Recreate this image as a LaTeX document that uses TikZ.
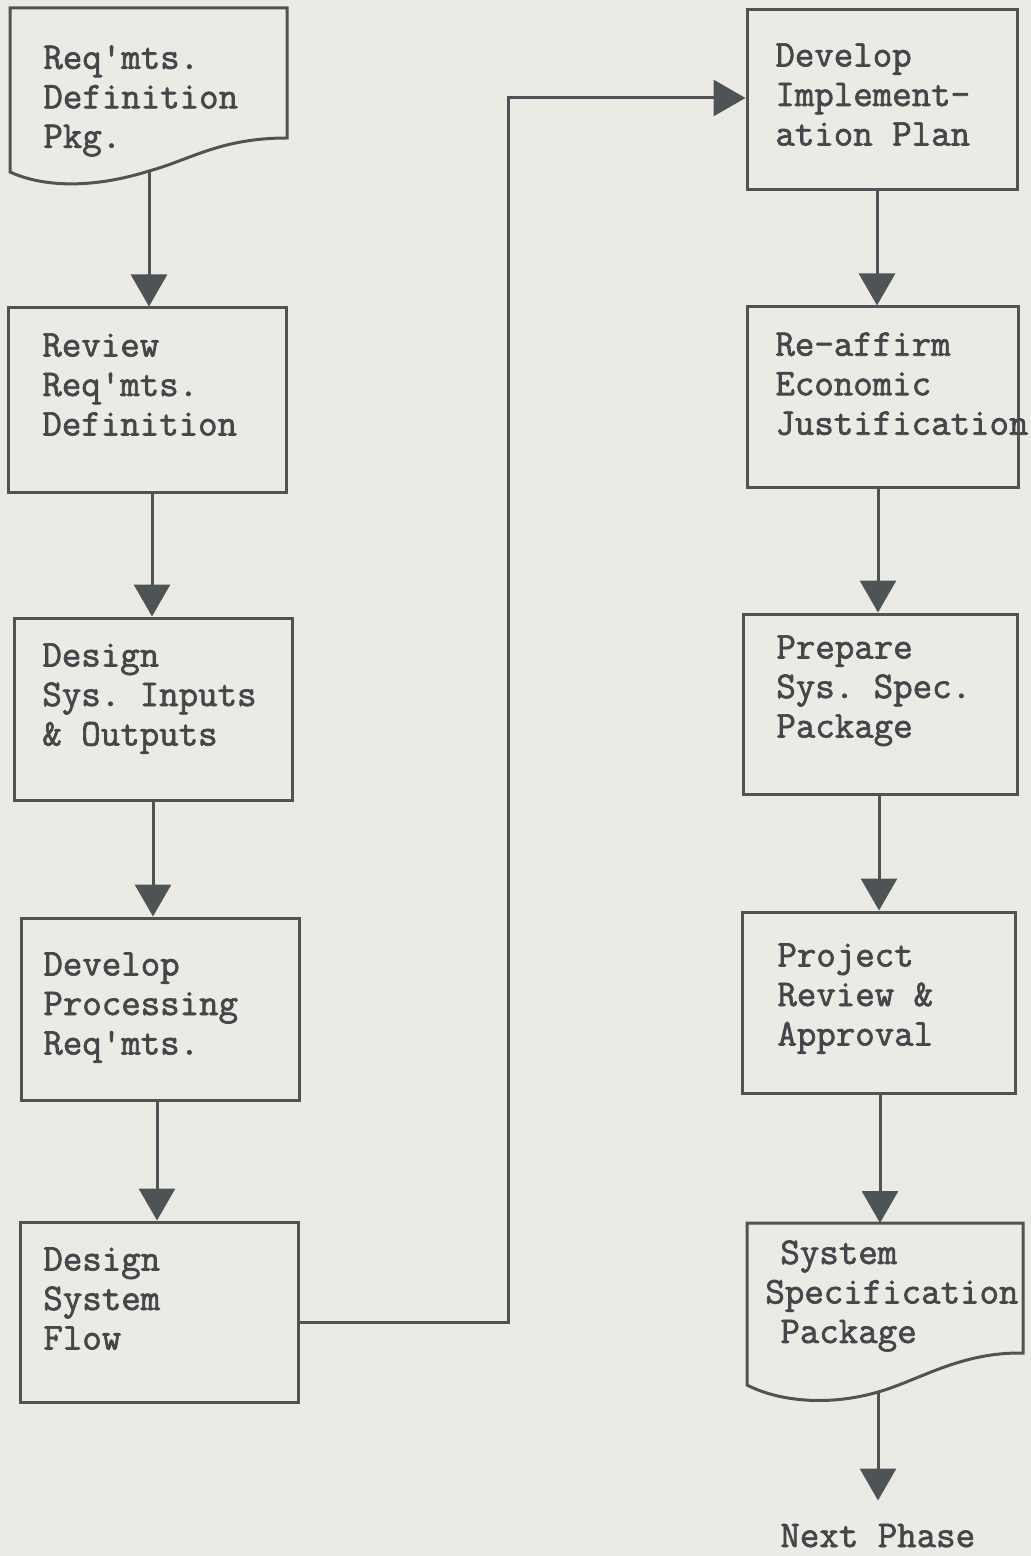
\documentclass[tikz,border=0pt]{standalone}
\usepackage{fontspec}
\usetikzlibrary{arrows.meta}
\newfontfamily\typer{Latin Modern Mono}[FakeBold=1.8]
\definecolor{paper}{HTML}{ECEAE5}
\definecolor{ink}{HTML}{4E5356}
\definecolor{typeink}{HTML}{44474A}
\frenchspacing

\begin{document}
\begin{tikzpicture}[x=0.5pt,y=-0.5pt,
  stepbox/.style={draw=ink, line width=1.5pt, rectangle, inner sep=0pt},
  docline/.style={draw=ink, line width=1.5pt, line join=miter},
  flow/.style={draw=ink, line width=1.5pt, -{Triangle[length=16pt,width=18pt]}},
  words/.style={text=typeink, inner sep=0pt, align=left, anchor=north west,
    font=\typer\frenchspacing\fontsize{18.9pt}{19.75pt}\selectfont}]

% paper
\fill[paper] (0,0) rectangle (1031,1556);
\useasboundingbox (0,0) rectangle (1031,1556);

% ---------- left column ----------
% requirements package (document symbol)
\path[docline] (10,172) -- (10,8) -- (287,8) -- (287,138)
  .. controls (220,138) and (190,160) .. (149,171)
  .. controls (95,188) and (45,188) .. (10,172) -- cycle;
\coordinate (d1out) at (149,171);
\node[words] (d1t) at (43,45) {Req'mts.\\Definition\\Pkg.};

\node[stepbox, minimum width=139pt, minimum height=92pt] (b2) at (147.5,400) {};
\node[words] (b2t) at (42,333) {Review\\Req'mts.\\Definition};

\node[stepbox, minimum width=139pt, minimum height=91pt] (b3) at (153,709) {};
\node[words] (b3t) at (42,643) {Design\\Sys. Inputs\\\& Outputs};

\node[stepbox, minimum width=139pt, minimum height=91pt] (b4) at (160,1009) {};
\node[words] (b4t) at (43,952) {Develop\\Processing\\Req'mts.};

\node[stepbox, minimum width=139pt, minimum height=90pt] (b5) at (159,1312) {};
\node[words] (b5t) at (43,1247) {Design\\System\\Flow};

% ---------- right column ----------
\node[stepbox, minimum width=135pt, minimum height=90pt] (r1) at (882,100) {};
\node[words] (r1t) at (775,43) {Develop\\Implement-\\ation Plan};

\node[stepbox, minimum width=135.5pt, minimum height=90pt] (r2) at (882.5,397) {};
\node[words] (r2t) at (775,332) {Re-affirm\\Economic\\Justification};

\node[stepbox, minimum width=137pt, minimum height=90pt] (r3) at (880,704) {};
\node[words] (r3t) at (776,635) {Prepare\\Sys. Spec.\\Package};

\node[stepbox, minimum width=136.5pt, minimum height=90.5pt] (r4) at (878.5,1002.5) {};
\node[words] (r4t) at (777,943) {Project\\Review \&\\Approval};

% system specification package (document symbol)
\path[docline] (747,1385) -- (747,1223) -- (1023,1223) -- (1023,1353)
  .. controls (960,1352) and (920,1380) .. (878,1392)
  .. controls (830,1406) and (780,1402) .. (747,1385) -- cycle;
\coordinate (r5top) at (880,1223);
\coordinate (r5out) at (878,1392);
\node[words] (r5t) at (765,1240)
  {\hspace*{7.5pt}System\\Specification\\\hspace*{7.5pt}Package};

\node[words, anchor=base west] (np) at (780,1547) {Next Phase};

% ---------- stem positions ----------
\coordinate (s12) at (149,0);
\coordinate (s23) at (152,0);
\coordinate (s34) at (153,0);
\coordinate (s45) at (157,0);
\coordinate (t12) at (877,0);
\coordinate (t23) at (878,0);
\coordinate (t34) at (879,0);
\coordinate (t45) at (880,0);
\coordinate (jog) at (508,700);

% ---------- connectors ----------
\draw[flow] (d1out) -- (b2.north -| s12);
\draw[flow] (b2.south -| s23) -- (b3.north -| s23);
\draw[flow] (b3.south -| s34) -- (b4.north -| s34);
\draw[flow] (b4.south -| s45) -- (b5.north -| s45);
\draw[flow] ([yshift=-5pt]b5.east) -| (jog) |- ([yshift=1pt]r1.west);
\draw[flow] (r1.south -| t12) -- (r2.north -| t12);
\draw[flow] (r2.south -| t23) -- (r3.north -| t23);
\draw[flow] (r3.south -| t34) -- (r4.north -| t34);
\draw[flow] (r4.south -| t45) -- (r5top);
\draw[flow] (r5out) -- ([yshift=11.5pt]np.north -| r5out);
\end{tikzpicture}
\end{document}
